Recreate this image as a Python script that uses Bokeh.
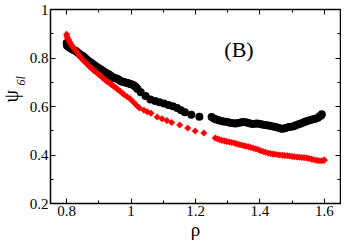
import math
from bokeh.plotting import figure
from bokeh.models import FixedTicker, LinearAxis, Label, ColumnDataSource
from bokeh.layouts import row
from bokeh.embed import file_html
from bokeh.resources import INLINE

# ---- data ----
black_x = [0.800, 0.801, 0.805, 0.810, 0.815, 0.820, 0.825, 0.830, 0.835, 0.840,
           0.845, 0.850, 0.855, 0.860, 0.865, 0.870, 0.875, 0.880, 0.885, 0.890,
           0.895, 0.900, 0.905, 0.910, 0.915, 0.920, 0.925, 0.930, 0.935, 0.940,
           0.945, 0.950, 0.955, 0.960, 0.965, 0.970, 0.975, 0.980, 0.985, 0.990,
           0.995, 1.000, 1.005, 1.010, 1.015, 1.020, 1.030, 1.045, 1.060, 1.075,
           1.088, 1.102, 1.116, 1.130, 1.143, 1.155, 1.167, 1.187, 1.212, 1.250,
           1.258, 1.265, 1.272, 1.280, 1.287, 1.295, 1.302, 1.310, 1.318, 1.325,
           1.332, 1.340, 1.347, 1.355, 1.362, 1.370, 1.377, 1.385, 1.392, 1.400,
           1.407, 1.415, 1.422, 1.430, 1.437, 1.445, 1.452, 1.460, 1.467, 1.475,
           1.482, 1.490, 1.497, 1.505, 1.512, 1.520, 1.527, 1.535, 1.542, 1.550,
           1.557, 1.565, 1.572, 1.580, 1.585, 1.590, 1.592]
black_y = [0.862, 0.852, 0.846, 0.842, 0.838, 0.834, 0.831, 0.828, 0.822, 0.817,
           0.812, 0.808, 0.803, 0.797, 0.791, 0.786, 0.781, 0.776, 0.771, 0.766,
           0.762, 0.758, 0.754, 0.749, 0.744, 0.740, 0.736, 0.733, 0.729, 0.724,
           0.720, 0.717, 0.715, 0.712, 0.707, 0.703, 0.702, 0.700, 0.698, 0.697,
           0.694, 0.692, 0.690, 0.686, 0.680, 0.672, 0.659, 0.643, 0.629, 0.623,
           0.618, 0.612, 0.606, 0.601, 0.594, 0.585, 0.576, 0.566, 0.558, 0.557,
           0.550, 0.546, 0.543, 0.540, 0.538, 0.537, 0.535, 0.532, 0.531, 0.530,
           0.532, 0.534, 0.536, 0.535, 0.533, 0.530, 0.528, 0.529, 0.530, 0.528,
           0.526, 0.524, 0.523, 0.521, 0.519, 0.517, 0.514, 0.511, 0.508, 0.509,
           0.512, 0.515, 0.517, 0.519, 0.523, 0.527, 0.530, 0.534, 0.538, 0.541,
           0.544, 0.547, 0.550, 0.554, 0.560, 0.563, 0.568]

red_x = [0.800, 0.801, 0.803, 0.806, 0.809, 0.812, 0.816, 0.820, 0.825, 0.830,
         0.835, 0.840, 0.845, 0.850, 0.855, 0.860, 0.865, 0.870, 0.875, 0.880,
         0.885, 0.890, 0.895, 0.900, 0.905, 0.910, 0.915, 0.920, 0.925, 0.930,
         0.935, 0.940, 0.945, 0.950, 0.955, 0.960, 0.966, 0.972, 0.978, 0.988,
         0.997, 1.006, 1.016, 1.026, 1.040, 1.050, 1.062, 1.081, 1.096, 1.111,
         1.126, 1.151, 1.176, 1.199, 1.226, 1.261, 1.268, 1.275, 1.282, 1.290,
         1.297, 1.305, 1.312, 1.320, 1.327, 1.335, 1.342, 1.350, 1.357, 1.365,
         1.372, 1.380, 1.387, 1.395, 1.402, 1.410, 1.417, 1.425, 1.432, 1.440,
         1.447, 1.455, 1.462, 1.470, 1.477, 1.485, 1.492, 1.500, 1.507, 1.515,
         1.522, 1.530, 1.537, 1.545, 1.552, 1.560, 1.567, 1.575, 1.582, 1.590,
         1.597, 1.600]
red_y = [0.898, 0.890, 0.882, 0.875, 0.867, 0.860, 0.852, 0.845, 0.836, 0.828,
         0.818, 0.808, 0.800, 0.793, 0.786, 0.780, 0.773, 0.766, 0.760, 0.754,
         0.748, 0.743, 0.738, 0.733, 0.727, 0.721, 0.715, 0.709, 0.704, 0.700,
         0.695, 0.690, 0.685, 0.680, 0.675, 0.669, 0.663, 0.656, 0.649, 0.640,
         0.632, 0.620, 0.606, 0.594, 0.585, 0.578, 0.572, 0.557, 0.549, 0.542,
         0.534, 0.524, 0.511, 0.499, 0.491, 0.470, 0.467, 0.463, 0.460, 0.458,
         0.456, 0.454, 0.452, 0.449, 0.446, 0.443, 0.441, 0.438, 0.436, 0.434,
         0.431, 0.428, 0.425, 0.422, 0.418, 0.414, 0.411, 0.408, 0.406, 0.404,
         0.403, 0.401, 0.400, 0.399, 0.398, 0.397, 0.396, 0.394, 0.393, 0.392,
         0.391, 0.390, 0.389, 0.388, 0.386, 0.383, 0.380, 0.378, 0.376, 0.376,
         0.377, 0.379]

x_ticks = [0.8, 1.0, 1.2, 1.4, 1.6]
x_tick_labels = ["0.8", "1", "1.2", "1.4", "1.6"]
x_minor = [0.9, 1.1, 1.3, 1.5]
y_ticks = [0.2, 0.4, 0.6, 0.8, 1.0]
y_tick_labels = ["0.2", "0.4", "0.6", "0.8", "1"]
y_minor = [0.3, 0.5, 0.7, 0.9]

FONT = "Liberation Serif"
LEFT_W = 26
H = 242

p = figure(width=341 - LEFT_W, height=H, x_range=(0.75, 1.65), y_range=(0.2, 1.0),
           output_backend="svg", toolbar_location=None,
           x_axis_location=None, y_axis_location=None,
           min_border_left=48 - LEFT_W, min_border_right=1, min_border_top=9,
           min_border_bottom=36)
p.grid.visible = False
p.outline_line_color = "black"
p.outline_line_width = 1.5
p.background_fill_color = "white"
p.border_fill_color = "white"

def make_axis(ticks, minor, labels, show):
    ax = LinearAxis(ticker=FixedTicker(ticks=ticks, minor_ticks=minor))
    ax.axis_line_color = None
    ax.major_tick_in = 5
    ax.major_tick_out = 0
    ax.minor_tick_in = 3
    ax.minor_tick_out = 0
    ax.major_tick_line_color = "black"
    ax.minor_tick_line_color = "black"
    if show:
        ax.major_label_overrides = {t: l for t, l in zip(ticks, labels)}
        ax.major_label_text_font = FONT
        ax.major_label_text_font_size = "15px"
        ax.major_label_text_color = "black"
        ax.major_label_standoff = 2
    else:
        ax.major_label_overrides = {t: "" for t in ticks}
        ax.major_label_standoff = 0
    return ax

xaxis = make_axis(x_ticks, x_minor, x_tick_labels, True)
xaxis.axis_label = "ρ"
xaxis.axis_label_text_font = FONT
xaxis.axis_label_text_font_size = "19px"
xaxis.axis_label_text_font_style = "normal"
xaxis.axis_label_text_color = "black"
xaxis.axis_label_standoff = 0
p.add_layout(xaxis, "below")
p.add_layout(make_axis(y_ticks, y_minor, y_tick_labels, True), "left")
p.add_layout(make_axis(x_ticks, x_minor, x_tick_labels, False), "above")
p.add_layout(make_axis(y_ticks, y_minor, y_tick_labels, False), "right")

black_src = ColumnDataSource(dict(x=black_x, y=black_y))
red_src = ColumnDataSource(dict(x=red_x, y=red_y))
p.scatter("x", "y", source=black_src, marker="circle", size=8,
          fill_color="black", line_color="black", line_width=0)
p.scatter("x", "y", source=red_src, marker="square", size=4.6, angle=math.pi / 4,
          fill_color="red", line_color="red", line_width=0.5)

p.add_layout(Label(x=1.335, y=0.836, text="(B)", text_font=FONT,
                   text_font_size="22px", text_align="center",
                   text_baseline="middle", text_color="black"))

# y-axis title (psi with italic subscript) in a narrow strip on the left
lab = figure(width=LEFT_W, height=H, output_backend="svg", toolbar_location=None,
             x_axis_location=None, y_axis_location=None, min_border=0,
             outline_line_color=None)
lab.grid.visible = False
lab.add_layout(Label(x=10, y=101, x_units="screen", y_units="screen", text="ψ",
                     angle=math.pi / 2, text_font=FONT, text_font_size="20px",
                     text_align="left", text_baseline="alphabetic", text_color="black"))
lab.add_layout(Label(x=20, y=118, x_units="screen", y_units="screen", text="6l",
                     angle=math.pi / 2, text_font=FONT, text_font_style="italic",
                     text_font_size="12px", text_align="left",
                     text_baseline="alphabetic", text_color="black"))

layout = row(lab, p, spacing=0)
open("out.html", "w").write(file_html(layout, INLINE))
